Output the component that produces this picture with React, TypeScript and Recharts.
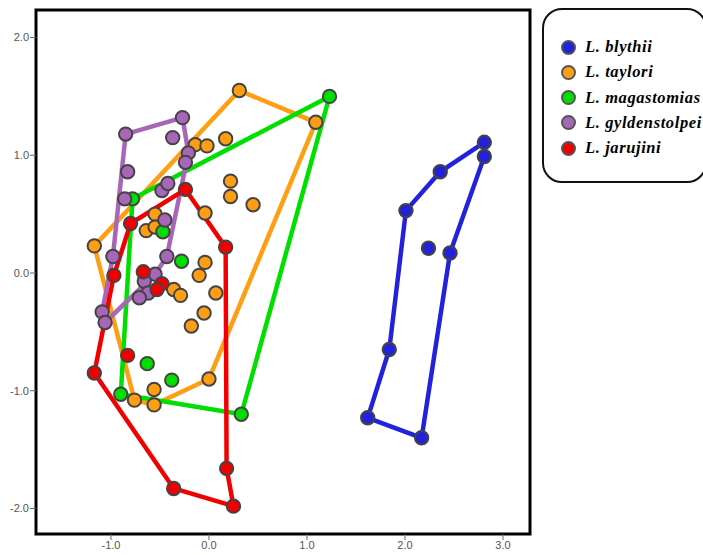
import { ReferenceArea, Scatter, ScatterChart, XAxis, YAxis } from "recharts";

type Pt = { x: number; y: number };

// species order as in the legend
const speciesNames = ["L. blythii", "L. taylori", "L. magastomias", "L. gyldenstolpei", "L. jarujini"];
const speciesColors = ["#2222dd", "#ff9e12", "#00e000", "#a866b8", "#f20000"];

// discriminant scores
const blythii: Pt[] = [
  { x: 2.81, y: 1.11 }, { x: 2.81, y: 0.99 }, { x: 2.36, y: 0.86 }, { x: 2.01, y: 0.53 },
  { x: 2.24, y: 0.21 }, { x: 2.46, y: 0.17 }, { x: 1.84, y: -0.65 }, { x: 1.62, y: -1.23 },
  { x: 2.17, y: -1.4 },
];
const taylori: Pt[] = [
  { x: 0.31, y: 1.55 }, { x: 1.09, y: 1.28 }, { x: -1.17, y: 0.23 }, { x: -0.14, y: 1.09 },
  { x: -0.02, y: 1.08 }, { x: 0.17, y: 1.14 }, { x: 0.22, y: 0.78 }, { x: 0.22, y: 0.65 },
  { x: 0.45, y: 0.58 }, { x: -0.04, y: 0.51 }, { x: -0.55, y: 0.5 }, { x: -0.64, y: 0.36 },
  { x: -0.55, y: 0.39 }, { x: -0.04, y: 0.09 }, { x: -0.1, y: -0.02 }, { x: -0.36, y: -0.14 },
  { x: -0.29, y: -0.19 }, { x: 0.07, y: -0.17 }, { x: -0.05, y: -0.34 }, { x: -0.18, y: -0.45 },
  { x: 0.0, y: -0.9 }, { x: -0.56, y: -0.99 }, { x: -0.76, y: -1.08 }, { x: -0.56, y: -1.12 },
];
const magastomias: Pt[] = [
  { x: 1.23, y: 1.5 }, { x: -0.78, y: 0.63 }, { x: -0.47, y: 0.35 }, { x: -0.28, y: 0.1 },
  { x: -0.9, y: -1.03 }, { x: -0.63, y: -0.77 }, { x: -0.38, y: -0.91 }, { x: 0.33, y: -1.2 },
];
const gyldenstolpei: Pt[] = [
  { x: -0.27, y: 1.32 }, { x: -0.85, y: 1.18 }, { x: -0.37, y: 1.15 }, { x: -0.21, y: 1.02 },
  { x: -0.24, y: 0.94 }, { x: -0.83, y: 0.86 }, { x: -0.86, y: 0.63 }, { x: -0.48, y: 0.7 },
  { x: -0.42, y: 0.76 }, { x: -0.45, y: 0.45 }, { x: -0.98, y: 0.14 }, { x: -0.43, y: 0.14 },
  { x: -0.55, y: -0.01 }, { x: -0.66, y: -0.07 }, { x: -0.62, y: -0.17 }, { x: -0.71, y: -0.21 },
  { x: -1.09, y: -0.33 }, { x: -1.06, y: -0.42 },
];
const jarujini: Pt[] = [
  { x: -0.24, y: 0.71 }, { x: 0.17, y: 0.22 }, { x: -0.8, y: 0.42 }, { x: -0.97, y: -0.02 },
  { x: -0.67, y: 0.01 }, { x: -0.48, y: -0.09 }, { x: -0.53, y: -0.14 }, { x: -0.83, y: -0.7 },
  { x: -1.17, y: -0.85 }, { x: -0.36, y: -1.83 }, { x: 0.25, y: -1.98 }, { x: 0.18, y: -1.66 },
];

// convex hull outlines, as indices into each species' points
const blythiiHull = [0, 2, 3, 6, 7, 8, 5, 1, 0];
const tayloriHull = [0, 1, 20, 23, 22, 2, 0];
const magastomiasHull = [0, 7, 4, 1, 0];
const gyldenstolpeiHull = [1, 0, 3, 11, 12, 17, 16, 10, 1];
const jarujiniHull = [0, 1, 11, 10, 9, 8, 3, 2, 0];

const xTicks = [-1, 0, 1, 2, 3];
const yTicks = [-2, -1, 0, 1, 2];
const xDomain = [-1.765, 3.276];
const yDomain = [-2.217, 2.234];

const groups = [
  { points: blythii, hull: blythiiHull },
  { points: taylori, hull: tayloriHull },
  { points: magastomias, hull: magastomiasHull },
  { points: gyldenstolpei, hull: gyldenstolpeiHull },
  { points: jarujini, hull: jarujiniHull },
];

const Dot = (props: any) => {
  const { cx, cy, fill } = props;
  if (cx == null || cy == null) return <g />;
  return <circle cx={cx} cy={cy} r={6.7} fill={fill} stroke="#444" strokeWidth={2} />;
};

const NoDot = () => <g />;

export default function App() {
  return (
    <div style={{ position: "absolute", left: 0, top: 0, width: 703, height: 555, background: "#fff" }}>
      <ScatterChart width={703} height={555} margin={{ top: 10, right: 173, left: 6, bottom: 5 }}>
        <XAxis
          type="number"
          dataKey="x"
          domain={xDomain}
          ticks={xTicks}
          allowDataOverflow
          height={16}
          axisLine={false}
          tickLine={{ stroke: "#666" }}
          tickSize={6}
          tickMargin={1}
          tick={{ fontSize: 11, fill: "#555", fontFamily: "Liberation Sans, Arial, sans-serif" }}
          tickFormatter={(v: number) => v.toFixed(1)}
        />
        <YAxis
          type="number"
          dataKey="y"
          domain={yDomain}
          ticks={yTicks}
          allowDataOverflow
          width={30}
          axisLine={false}
          tickLine={{ stroke: "#666" }}
          tickSize={6}
          tickMargin={1}
          tick={{ fontSize: 11, fill: "#555", fontFamily: "Liberation Sans, Arial, sans-serif" }}
          tickFormatter={(v: number) => v.toFixed(1)}
        />
        {groups.map((g, i) => (
          <Scatter
            key={"hull" + i}
            data={g.hull.map((k) => g.points[k])}
            line={{ stroke: speciesColors[i], strokeWidth: 4.5 }}
            lineType="joint"
            shape={NoDot}
            fill={speciesColors[i]}
            legendType="none"
            isAnimationActive={false}
          />
        ))}
        {groups.map((g, i) => (
          <Scatter
            key={"pts" + i}
            name={speciesNames[i]}
            data={g.points}
            fill={speciesColors[i]}
            shape={Dot}
            isAnimationActive={false}
          />
        ))}
        <ReferenceArea
          x1={xDomain[0]}
          x2={xDomain[1]}
          y1={yDomain[0]}
          y2={yDomain[1]}
          fill="none"
          fillOpacity={0}
          stroke="#000"
          strokeWidth={3}
          ifOverflow="visible"
        />
      </ScatterChart>
      <div
        style={{
          position: "absolute",
          left: 542,
          top: 8,
          width: 161,
          height: 171,
          border: "2px solid #111",
          borderRadius: 20,
          background: "#fff",
        }}
      >
        {speciesNames.map((name, i) => (
          <div
            key={name}
            style={{
              position: "absolute",
              left: 17,
              top: 26 + i * 25.3,
              display: "flex",
              alignItems: "center",
              height: 22,
              whiteSpace: "nowrap",
            }}
          >
            <span
              style={{
                display: "inline-block",
                width: 11,
                height: 11,
                borderRadius: "50%",
                background: speciesColors[i],
                border: "2px solid #555",
                marginRight: 9,
              }}
            />
            <span
              style={{
                fontFamily: "Liberation Serif, Times New Roman, serif",
                fontStyle: "italic",
                fontWeight: "bold",
                fontSize: 16.5,
                letterSpacing: 0.6,
                color: "#000",
              }}
            >
              {name}
            </span>
          </div>
        ))}
      </div>
    </div>
  );
}
